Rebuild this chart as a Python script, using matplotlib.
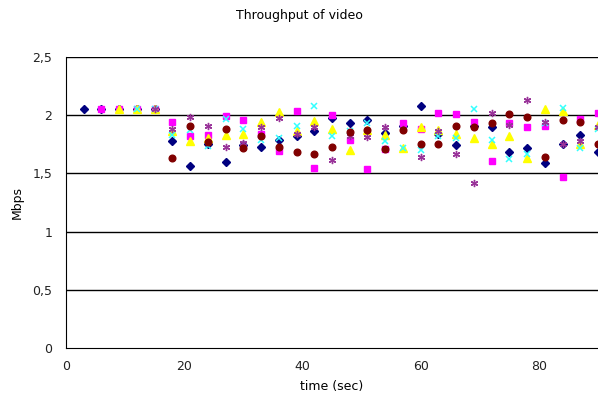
import matplotlib
matplotlib.use("Agg")
import matplotlib.pyplot as plt
import numpy as np

time = [3, 6, 9, 12, 15, 18, 21, 24, 27, 30, 33, 36, 39, 42, 45, 48, 51, 54, 57,
        60, 63, 66, 69, 72, 75, 78, 81, 84, 87, 90]

# each series starts later (None = no point yet)
s1 = [2.05, 2.05, 2.05, 2.05, 2.05, 1.78, 1.56, 1.75, 1.595, 1.74, 1.73, 1.79, 1.82, 1.865, 1.975,
      1.93, 1.96, 1.85, 1.905, 2.08, 1.835, 1.745, 1.91, 1.895, 1.68, 1.72, 1.59, 1.755, 1.83, 1.68]
s2 = [None, 2.05, 2.05, 2.05, 2.05, 1.945, 1.82, 1.83, 1.99, 1.96, 1.84, 1.69, 2.04, 1.55, 2.0,
      1.79, 1.54, 1.71, 1.935, 1.885, 2.015, 2.01, 1.945, 1.61, 1.93, 1.90, 1.91, 1.47, 1.965, 2.015]
s3 = [None, None, 2.05, 2.05, 2.05, 1.86, 1.78, 1.80, 1.83, 1.84, 1.94, 2.03, 1.865, 1.95, 1.88,
      1.70, 1.87, 1.83, 1.715, 1.90, 1.87, 1.835, 1.80, 1.75, 1.82, 1.63, 2.05, 2.04, 1.75, 1.915]
s4 = [None, None, None, 2.05, 2.05, 1.83, 1.87, 1.735, 1.97, 1.88, 1.79, 1.80, 1.91, 2.075, 1.82,
      1.865, 1.93, 1.78, 1.715, 1.705, 1.82, 1.80, 2.055, 1.79, 1.62, 1.67, 1.93, 2.065, 1.72, 1.88]
s5 = [None, None, None, None, 2.05, 1.88, 1.985, 1.91, 1.73, 1.76, 1.895, 1.98, 1.84, 1.90, 1.615,
      1.82, 1.815, 1.90, 1.88, 1.645, 1.86, 1.67, 1.42, 2.02, 1.92, 2.13, 1.94, 1.755, 1.78, 1.90]
s6 = [None, None, None, None, None, 1.63, 1.905, 1.77, 1.88, 1.72, 1.82, 1.73, 1.68, 1.67, 1.73,
      1.855, 1.875, 1.71, 1.875, 1.755, 1.755, 1.91, 1.90, 1.93, 2.01, 1.985, 1.645, 1.96, 1.945, 1.75]

series = [s1, s2, s3, s4, s5, s6]
styles = [
    dict(marker='D', color='#000080', ms=4.2),
    dict(marker='s', color='#FF00FF', ms=4.8),
    dict(marker='^', color='#FFFF00', ms=5.2),
    dict(marker='x', color='#33FFFF', ms=4.8, mew=1.1),
    dict(marker=(6, 2, 0), color='#993399', ms=5.2, mew=1.0),
    dict(marker='o', color='#800000', ms=4.8),
]

fig = plt.figure(figsize=(5.98, 4.05), dpi=100)
ax = fig.add_axes([66/598, 1-348/405, 1-66/598, (348-57)/405])

for vals, st in zip(series, styles):
    xs = [t for t, v in zip(time, vals) if v is not None]
    ys = [v for v in vals if v is not None]
    ax.plot(xs, ys, linestyle='none', **st)

ax.set_xlim(0, 90)
ax.set_ylim(0, 2.5)
yt = [0, 0.5, 1, 1.5, 2, 2.5]
ax.set_yticks(yt)
ax.set_yticklabels([str(v).replace('.', ',') if v != int(v) else str(int(v)) for v in yt])
ax.set_xticks([0, 20, 40, 60, 80])
for v in yt[1:]:
    ax.axhline(v, color='black', lw=1, zorder=0)
for s in ['top', 'right']:
    ax.spines[s].set_visible(False)
ax.spines['left'].set_color('black')
ax.spines['bottom'].set_color('black')
ax.tick_params(length=0, labelsize=9, colors='#222222')
ax.tick_params(axis='y', pad=10)
ax.tick_params(axis='x', pad=9)
ax.set_ylabel('Mbps', fontsize=9, labelpad=6)
ax.set_xlabel('time (sec)', fontsize=9, labelpad=5)
fig.text(0.5, 1-16/405, 'Throughput of video', ha='center', va='center', fontsize=9)

fig.savefig('out.png', dpi=100)
